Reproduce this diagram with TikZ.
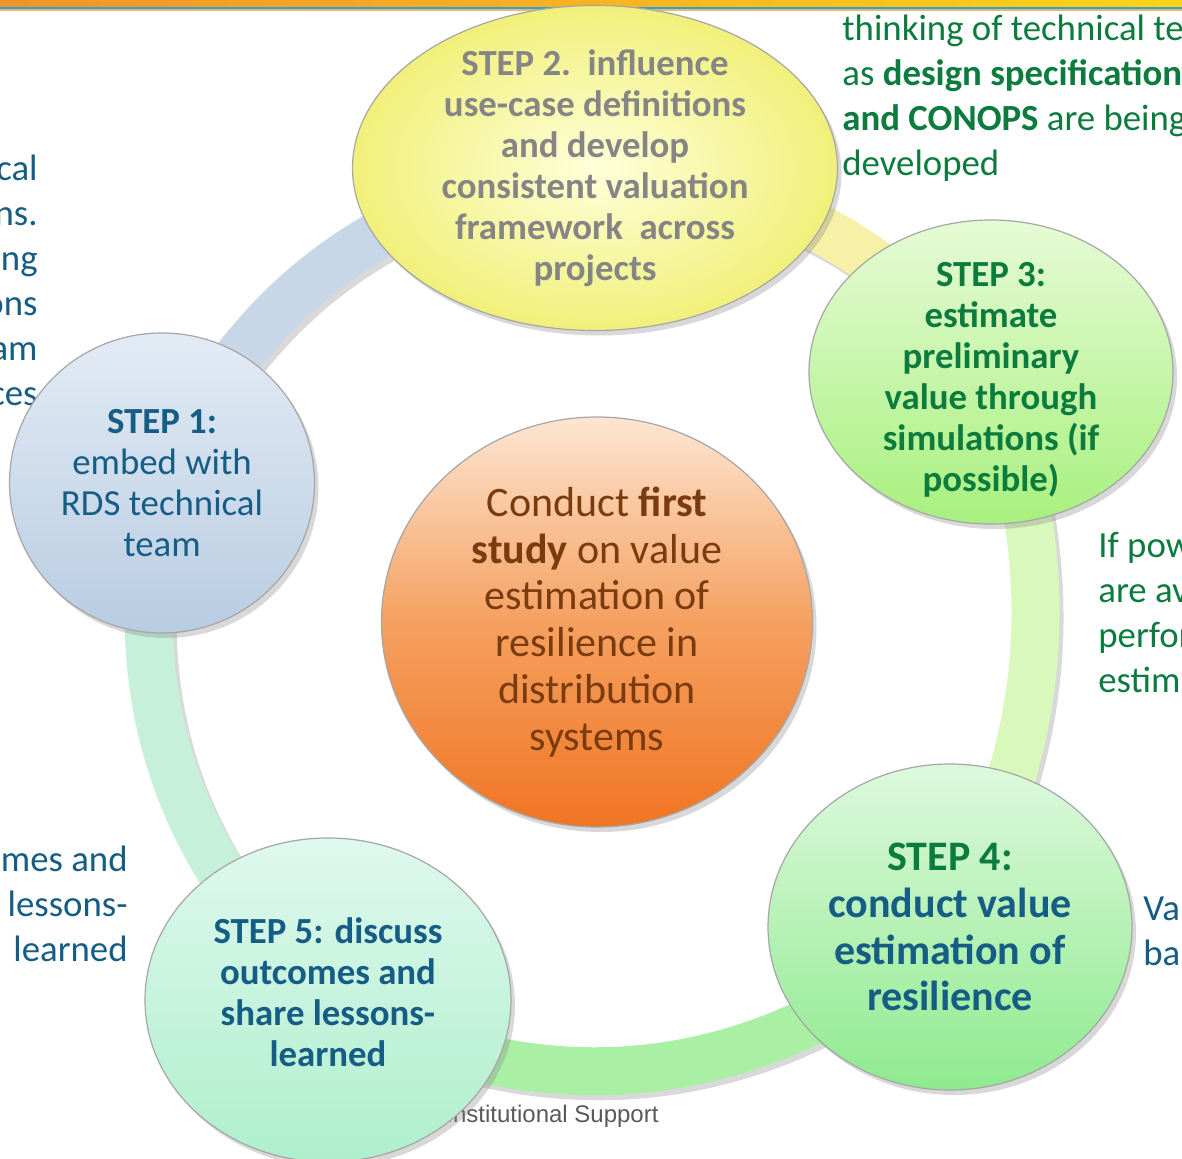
\documentclass[tikz,border=0pt]{standalone}
\usepackage{fontspec}
\setmainfont{Carlito}
\newfontfamily\footfont{Liberation Sans}
\usetikzlibrary{shapes.geometric,shadows,backgrounds}

\definecolor{barorange}{HTML}{F2922A}
\definecolor{baryellow}{HTML}{FDD319}
\definecolor{barblue}{HTML}{27A6D6}
\definecolor{tealtext}{HTML}{155D84}
\definecolor{greentext}{HTML}{0B7C3D}
\definecolor{graytext}{HTML}{858585}
\definecolor{browntext}{HTML}{7A3B0E}
\definecolor{ringA}{HTML}{C8D7E8}
\definecolor{ringB}{HTML}{F6F1A6}
\definecolor{ringC}{HTML}{D9F8BC}
\definecolor{ringD}{HTML}{A9F0A4}
\definecolor{ringE}{HTML}{C6F0DA}
\definecolor{oneTop}{HTML}{E3EBF5}
\definecolor{oneBot}{HTML}{B8CCE2}
\definecolor{twoIn}{HTML}{FFFFDA}
\definecolor{twoOut}{HTML}{F1F07A}
\definecolor{threeTop}{HTML}{E6FBD6}
\definecolor{threeBot}{HTML}{A8F07E}
\definecolor{fourTop}{HTML}{DDF9DD}
\definecolor{fourBot}{HTML}{8FEA8F}
\definecolor{fiveTop}{HTML}{DFF8EE}
\definecolor{fiveBot}{HTML}{AEEFCC}
\definecolor{hubTop}{HTML}{FDE6D2}
\definecolor{hubMid}{HTML}{F5A060}
\definecolor{hubBot}{HTML}{F07522}

\newcommand*{\sidefont}{\fontsize{18.4}{22.5}\selectfont}
\newcommand*{\stepfont}{\fontsize{18.4}{20.5}\selectfont}
\newcommand*{\bigfont}{\fontsize{21}{23.4}\selectfont}

\begin{document}
\begin{tikzpicture}
[
	x=0.5pt,
	y=-0.5pt,
	stepball/.style={ellipse,draw=gray!70,line width=0.6pt,inner sep=0pt,
		drop shadow={opacity=0.3,shadow xshift=2pt,shadow yshift=-2.5pt}},
	steptext/.style={align=center,inner sep=0pt},
	ringpart/.style={line width=24pt},
	ringshadow/.style={ringpart,black,opacity=0.15,transform canvas={xshift=2pt,yshift=-2.5pt}},
	sidetext/.style={font=\sidefont,inner sep=0pt}
]

	\useasboundingbox (0,0) rectangle (1182,1159);
	\clip (0,0) rectangle (1182,1159);

	% top bar
	\shade[left color=barorange,right color=baryellow] (0,0) rectangle (1182,7.5);
	\fill[barblue] (0,7.5) rectangle (1182,9.5);
	\fill[barorange!70] (0,9.5) rectangle (1182,11);

	% side notes
	\node[sidetext,anchor=east,align=right,text=tealtext] (leftnote) at (38,280) {cal\\ns.\\ng\\ons\\am\\ces};
	\node[sidetext,anchor=west,align=left,text=greentext] (topnote) at (842,98)
		{thinking of technical te\\as \textbf{design specification}\\\textbf{and CONOPS} are being\\developed};
	\node[sidetext,anchor=west,align=left,text=greentext] (midnote) at (1098,613) {If pow\\are av\\perfor\\estim};
	\node[sidetext,anchor=east,align=right,text=tealtext] (lownote) at (128,904) {mes and\\lessons-\\learned};
	\node[sidetext,anchor=west,align=left,text=tealtext] (valnote) at (1143,930) {Val\\bas};
	\node[font=\footfont\fontsize{12}{14}\selectfont,text=black!65,anchor=west,inner sep=0pt] (foot) at (446,1116) {Institutional Support};

	% circles
	\node[stepball,minimum width=152.5pt,minimum height=150pt,top color=oneTop,bottom color=oneBot] (s1) at (162,483) {};
	\node[stepball,minimum width=242.5pt,minimum height=162.5pt,inner color=twoIn,outer color=twoOut] (s2) at (595,168) {};
	\node[stepball,minimum width=182pt,minimum height=152pt,top color=threeTop,bottom color=threeBot] (s3) at (991,372) {};
	\node[stepball,minimum width=182pt,minimum height=163pt,top color=fourTop,bottom color=fourBot] (s4) at (950,927) {};
	\node[stepball,minimum width=183pt,minimum height=162pt,top color=fiveTop,bottom color=fiveBot] (s5) at (328,1000) {};
	\node[stepball,minimum width=215.5pt,minimum height=205pt,top color=hubTop,bottom color=hubBot,middle color=hubMid] (hub) at (597,622) {};

	% circle texts
	\node[steptext,font=\stepfont,text=tealtext] (t1) at (s1) {\textbf{STEP 1:}\\embed with\\RDS technical\\team};
	\node[steptext,font=\stepfont\bfseries,text=graytext] (t2) at (s2)
		{STEP 2.~~influence\\use-case definitions\\and develop\\consistent valuation\\framework~~across\\projects};
	\node[steptext,font=\stepfont\bfseries,text=greentext] (t3) at ([yshift=-4pt]s3)
		{STEP 3:\\estimate\\preliminary\\value through\\simulations (if\\possible)};
	\node[steptext,font=\bigfont\bfseries,text=tealtext] (t4) at (s4)
		{{\color{greentext}STEP 4:}\\conduct value\\estimation of\\resilience};
	\node[steptext,font=\stepfont\bfseries,text=tealtext] (t5) at ([yshift=4pt]s5)
		{STEP 5: discuss\\outcomes and\\share lessons-\\learned};
	\node[steptext,font=\bigfont,text=browntext] (thub) at (hub)
		{Conduct \textbf{first}\\\textbf{study} on value\\estimation of\\resilience in\\distribution\\systems};

	% ring
	\begin{scope}[on background layer]
		\fill[white] (0,0) rectangle (1182,1159);
		\foreach \sa/\sb/\bnd/\col in {s1/s2/29/ringA,s2/s3/22/ringB,s3/s4/23/ringC,s4/s5/35/ringD,s5/s1/29/ringE} {
			\draw[ringshadow] (\sa.center) to[bend left=\bnd] (\sb.center);
			\draw[ringpart,\col] (\sa.center) to[bend left=\bnd] (\sb.center);
		}
	\end{scope}

\end{tikzpicture}
\end{document}
